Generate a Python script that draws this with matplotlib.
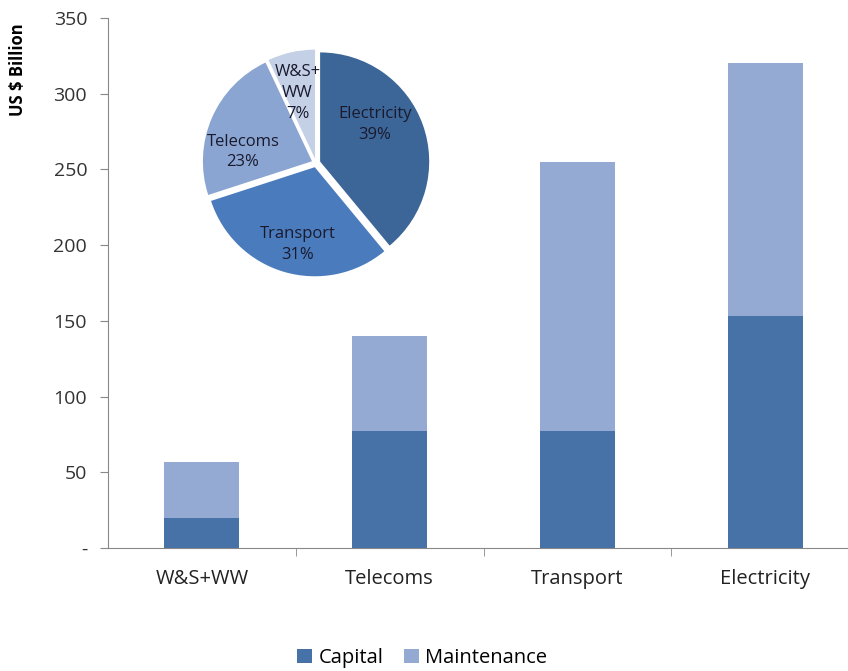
import matplotlib.pyplot as plt
import numpy as np

plt.rcParams['font.family'] = ['Open Sans', 'DejaVu Sans']

# data
categories = ['W&S+WW', 'Telecoms', 'Transport', 'Electricity']
capital = [20, 77, 77, 153]
maintenance = [37, 63, 178, 167]

pie_labels = ['Electricity', 'Transport', 'Telecoms', 'W&S+\nWW']
pie_shares = [39, 31, 23, 7]

col_capital = '#4672a8'
col_maint = '#94aad3'
pie_colors = ['#3c6698', '#4a7cbd', '#8aa5d1', '#c4d0e6']

fig = plt.figure(figsize=(8.48, 6.71), dpi=100)
ax = fig.add_axes([108/848, 1 - 548/671, 1 - 108/848, 530/671])

x = np.arange(len(categories))
ax.bar(x, capital, width=0.4, color=col_capital, label='Capital')
ax.bar(x, maintenance, width=0.4, bottom=capital, color=col_maint, label='Maintenance')

ax.set_ylim(0, 350)
ax.set_xlim(-0.5, 3.44)
ax.set_yticks(range(0, 351, 50))
ax.set_yticklabels(['-'] + [str(v) for v in range(50, 351, 50)])
ax.set_xticks(x)
ax.set_xticklabels(categories)
ax.set_xticks(np.arange(0.5, 3.5, 1), minor=True)
ax.tick_params(axis='x', which='major', length=0, pad=15, labelsize=14.5, labelcolor='#222222')
ax.tick_params(axis='x', which='minor', length=6, color='#888888', direction='out')
ax.tick_params(axis='y', length=6, color='#888888', labelsize=14, labelcolor='#333333', pad=9)
for s in ['top', 'right']:
    ax.spines[s].set_visible(False)
ax.spines['left'].set_color('#888888')
ax.spines['bottom'].set_color('#888888')

fig.text(18/848, 1 - 70/671, 'US $ Billion', rotation=90, fontsize=12,
         fontweight='bold', ha='center', va='center')

fig.legend(loc='center', bbox_to_anchor=(422/848, 1 - 658/671), ncol=2,
           frameon=False, fontsize=14.5, handlelength=0.75, handleheight=0.75,
           handletextpad=0.3, columnspacing=1.0)

# pie inset
pax = fig.add_axes([(316 - 120)/848, 1 - (163 + 120)/671, 240/848, 240/671])
labels = [f'{l}\n{v}%' for l, v in zip(pie_labels, pie_shares)]
wedges, texts = pax.pie(pie_shares, labels=labels, colors=pie_colors, startangle=90,
                        counterclock=False, explode=[0.04]*4, labeldistance=0.68,
                        textprops=dict(fontsize=12, color='#1a1a2e', ha='center', va='center',
                                       linespacing=1.4),
                        wedgeprops=dict(linewidth=0))
# label placement inside the slices
label_pos = [(0.54, 0.35), (-0.17, -0.75), (-0.67, 0.10), (-0.17, 0.64)]
for t, p in zip(texts, label_pos):
    t.set_position(p)
pax.set_xlim(-1.1, 1.1)
pax.set_ylim(-1.1, 1.1)
pax.set_aspect('equal')

fig.savefig('out.png', dpi=100)
